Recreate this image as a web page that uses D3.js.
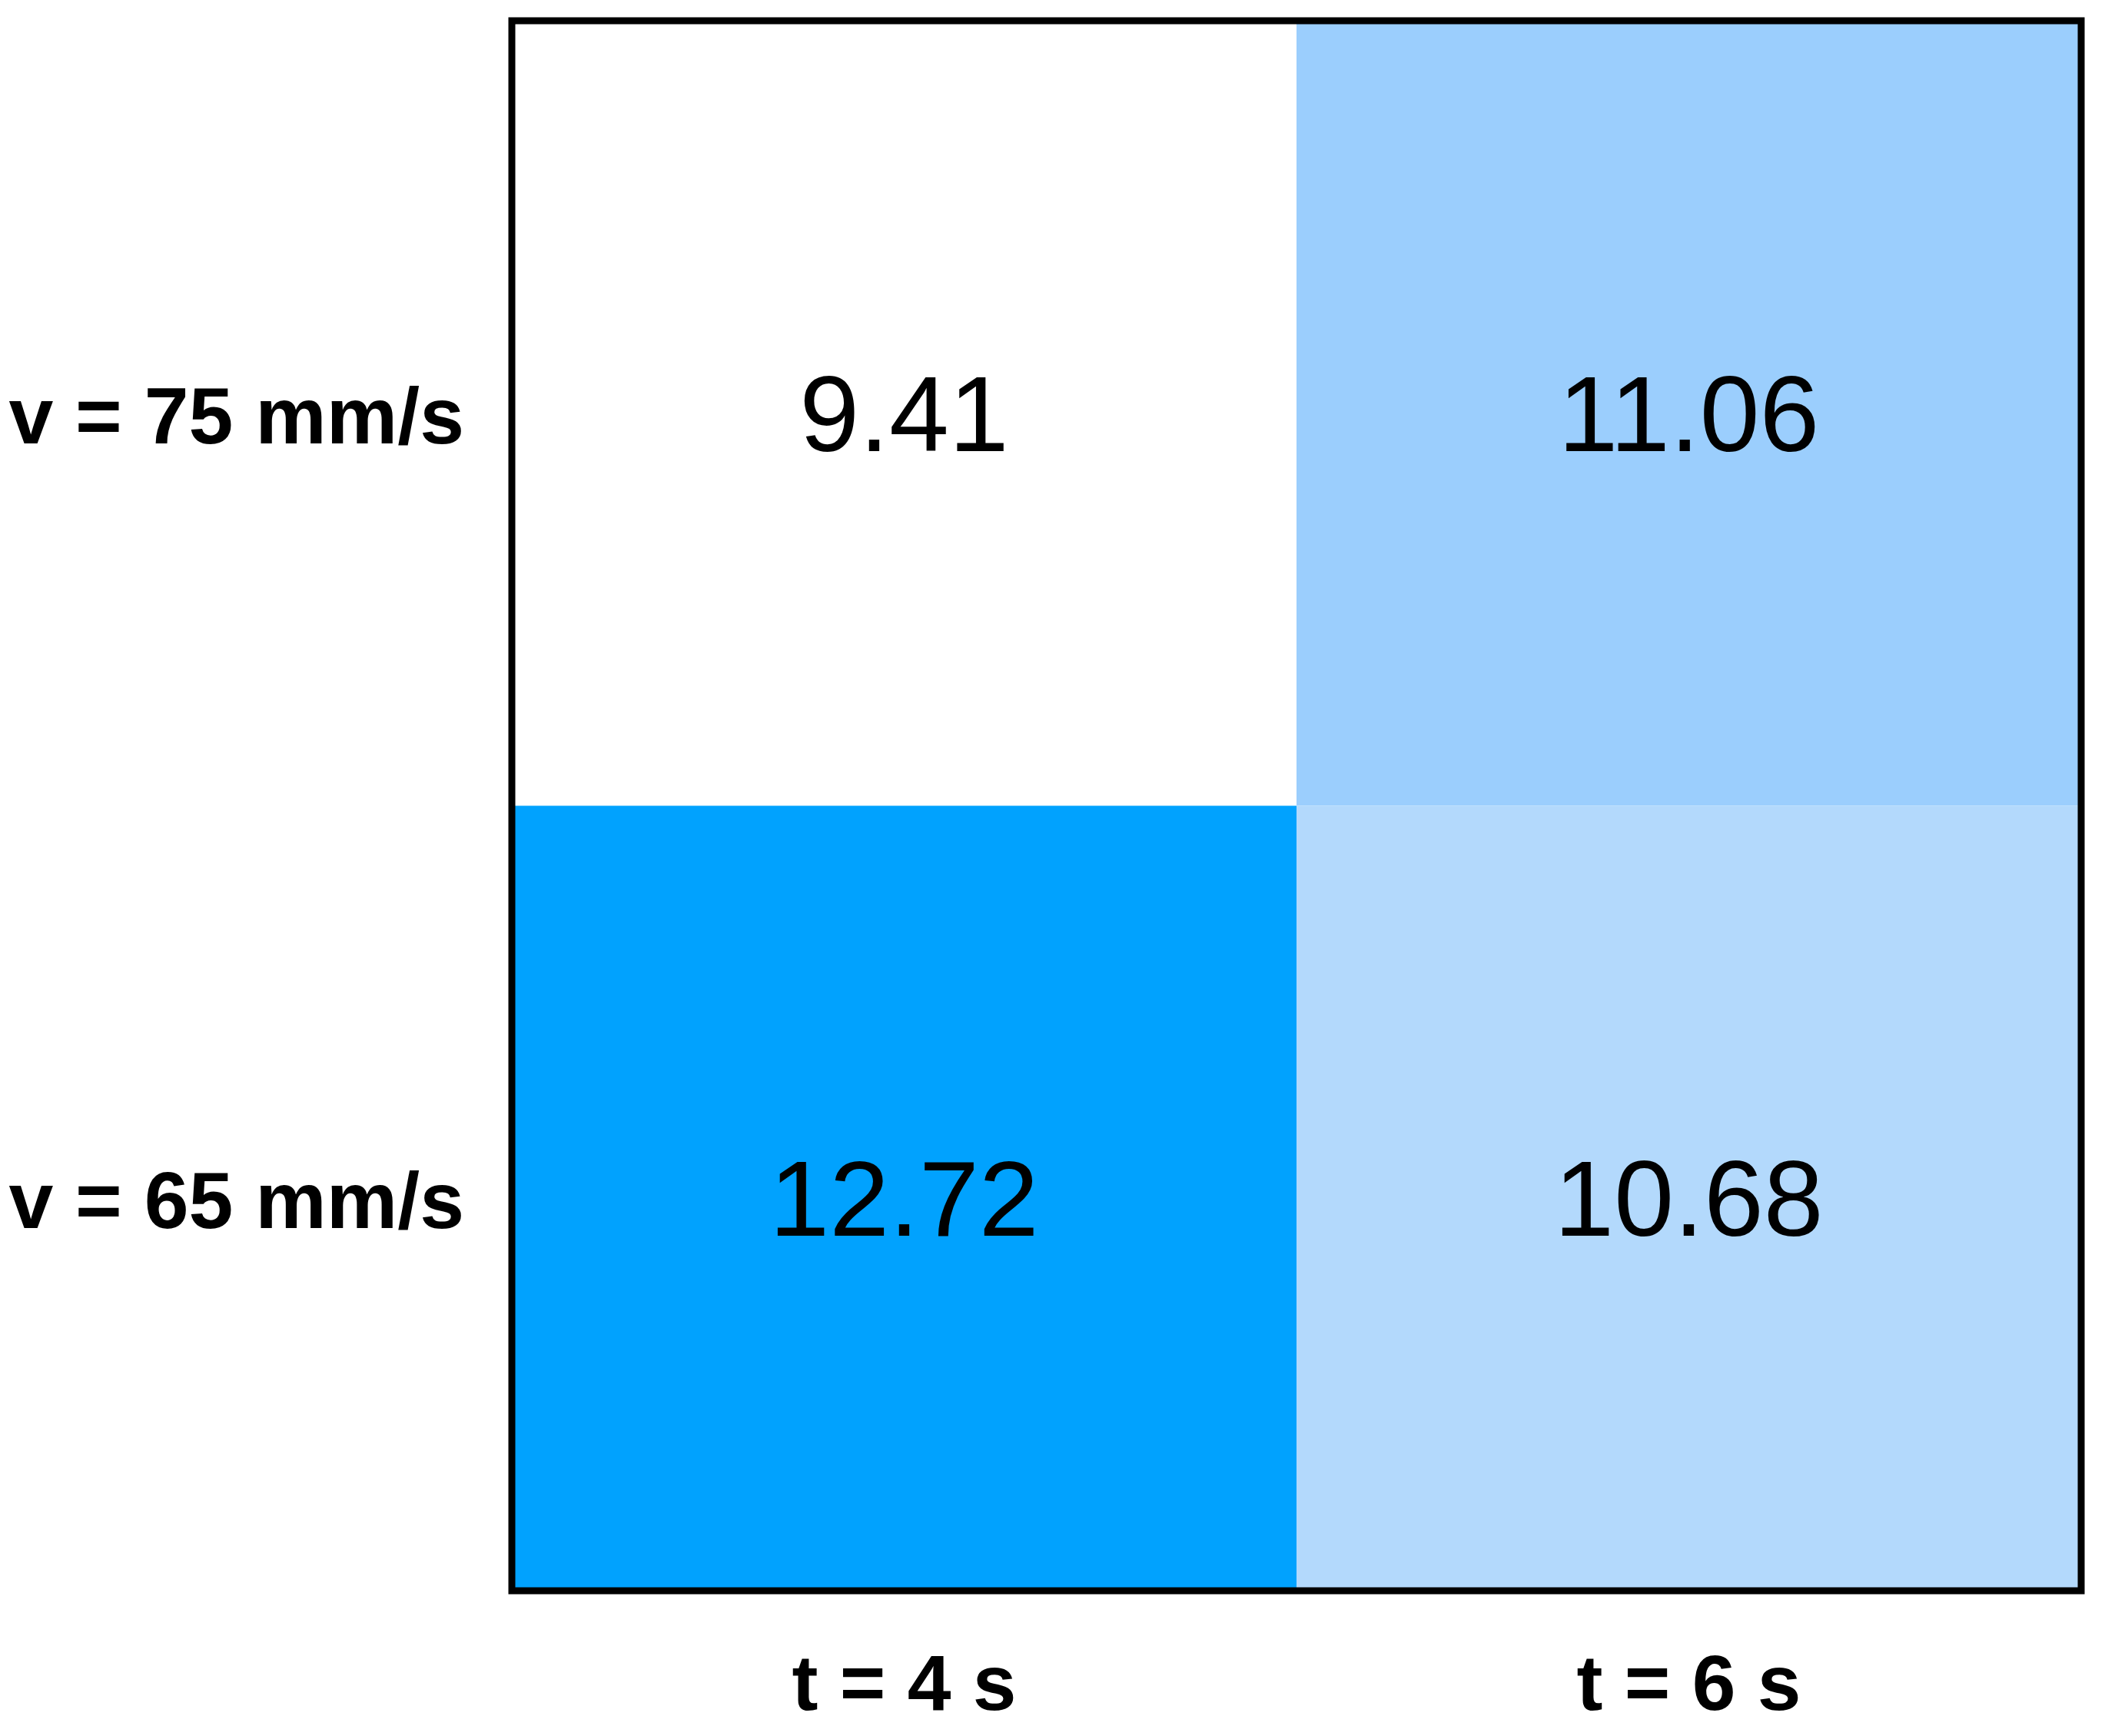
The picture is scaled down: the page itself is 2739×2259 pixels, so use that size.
<!DOCTYPE html>
<html>
<head>
<meta charset="utf-8">
<script src="https://cdn.jsdelivr.net/npm/d3@7"></script>
<style>
  html, body { margin: 0; padding: 0; background: #ffffff; }
  svg { display: block; }
</style>
</head>
<body>
<svg id="chart" width="2739" height="2259"></svg>
<script>
// ---- data ----
const rowLabels = ["v = 75 mm/s", "v = 65 mm/s"];
const colLabels = ["t = 4 s", "t = 6 s"];
const row75 = [9.41, 11.06];
const row65 = [12.72, 10.68];
const values = [row75, row65];

// ---- styling ----
const colourStops = ["#ffffff", "#b3d9fc", "#9bcefd", "#01a2fe"];

const svg = d3.select("#chart");
const margin = { left: 666, top: 27, right: 2739 - 2708, bottom: 2259 - 2070 };
const W = 2739, H = 2259;

const x = d3.scaleBand().domain(colLabels).range([margin.left, W - margin.right]).padding(0);
const y = d3.scaleBand().domain(rowLabels).range([margin.top, H - margin.bottom]).padding(0);

const sortedVals = values.flat().slice().sort(d3.ascending);
const colour = d3.scaleLinear().domain(sortedVals).range(colourStops);

const cells = [];
values.forEach((row, i) => row.forEach((v, j) => cells.push({ row: rowLabels[i], col: colLabels[j], v })));

svg.append("g").selectAll("rect").data(cells).join("rect")
  .attr("x", d => x(d.col))
  .attr("y", d => y(d.row))
  .attr("width", x.bandwidth())
  .attr("height", y.bandwidth())
  .attr("fill", d => colour(d.v));

svg.append("g").selectAll("text").data(cells).join("text")
  .attr("x", d => x(d.col) + x.bandwidth() / 2)
  .attr("y", d => y(d.row) + y.bandwidth() / 2 + 49)
  .attr("text-anchor", "middle")
  .attr("font-family", "Liberation Sans, Arial, sans-serif")
  .attr("font-size", 140)
  .attr("fill", "#000")
  .text(d => d.v.toFixed(2));

// frame
svg.append("rect")
  .attr("x", margin.left)
  .attr("y", margin.top)
  .attr("width", W - margin.left - margin.right)
  .attr("height", H - margin.top - margin.bottom)
  .attr("fill", "none")
  .attr("stroke", "#000")
  .attr("stroke-width", 9);

// row labels
svg.append("g").selectAll("text").data(rowLabels).join("text")
  .attr("x", 604)
  .attr("y", d => y(d) + y.bandwidth() / 2 + 39)
  .attr("text-anchor", "end")
  .attr("font-family", "Liberation Sans, Arial, sans-serif")
  .attr("font-weight", "bold")
  .attr("font-size", 104)
  .attr("fill", "#000")
  .text(d => d);

// column labels
svg.append("g").selectAll("text").data(colLabels).join("text")
  .attr("x", d => x(d) + x.bandwidth() / 2)
  .attr("y", 2225)
  .attr("text-anchor", "middle")
  .attr("font-family", "Liberation Sans, Arial, sans-serif")
  .attr("font-weight", "bold")
  .attr("font-size", 102)
  .attr("fill", "#000")
  .text(d => d);
</script>
</body>
</html>
